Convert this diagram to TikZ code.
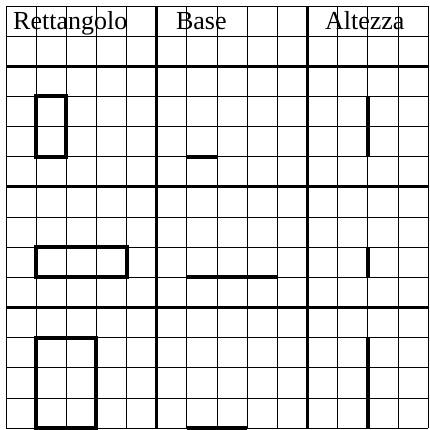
\documentclass[tikz,border=0pt]{standalone}
\usepackage{fontspec}
\setmainfont{Liberation Serif}
\tikzset{
  cella/.style={black,line width=0.7pt},
  sep/.style={black,line width=2.2pt},
  figura/.style={black,line width=3pt},
  titolo/.style={anchor=base west,inner sep=0pt,font=\fontsize{19.5}{23}\selectfont},
}
\begin{document}
\begin{tikzpicture}[x=22.61pt,y=-22.61pt]
  \useasboundingbox (-0.2,-0.2) rectangle (14.06,14.03);
  % griglia
  \foreach \i in {0,...,14} {
    \draw[cella] (\i,0) -- (\i,14);
    \draw[cella] (0,\i) -- (14,\i);
  }
  \foreach \i in {5,10} \draw[sep] (\i,0) -- (\i,14);
  \foreach \i in {2,6,10} \draw[sep] (0,\i) -- (14,\i);
  % intestazioni
  \node[titolo] (hRett) at (0.23,0.775) {Rettangolo};
  \node[titolo] (hBase) at (5.63,0.775) {Base};
  \node[titolo] (hAlt)  at (10.57,0.775) {Altezza};
  % rettangoli, basi, altezze
  \draw[figura] (1,3) rectangle (2,5);
  \draw[figura] (6,5) -- (7,5);
  \draw[figura] (12,3) -- (12,5);
  \draw[figura] (1,8) rectangle (4,9);
  \draw[figura] (6,9) -- (9,9);
  \draw[figura] (12,8) -- (12,9);
  \draw[figura] (1,11) rectangle (3,14);
  \draw[figura] (6,14) -- (8,14);
  \draw[figura] (12,11) -- (12,14);
\end{tikzpicture}
\end{document}
